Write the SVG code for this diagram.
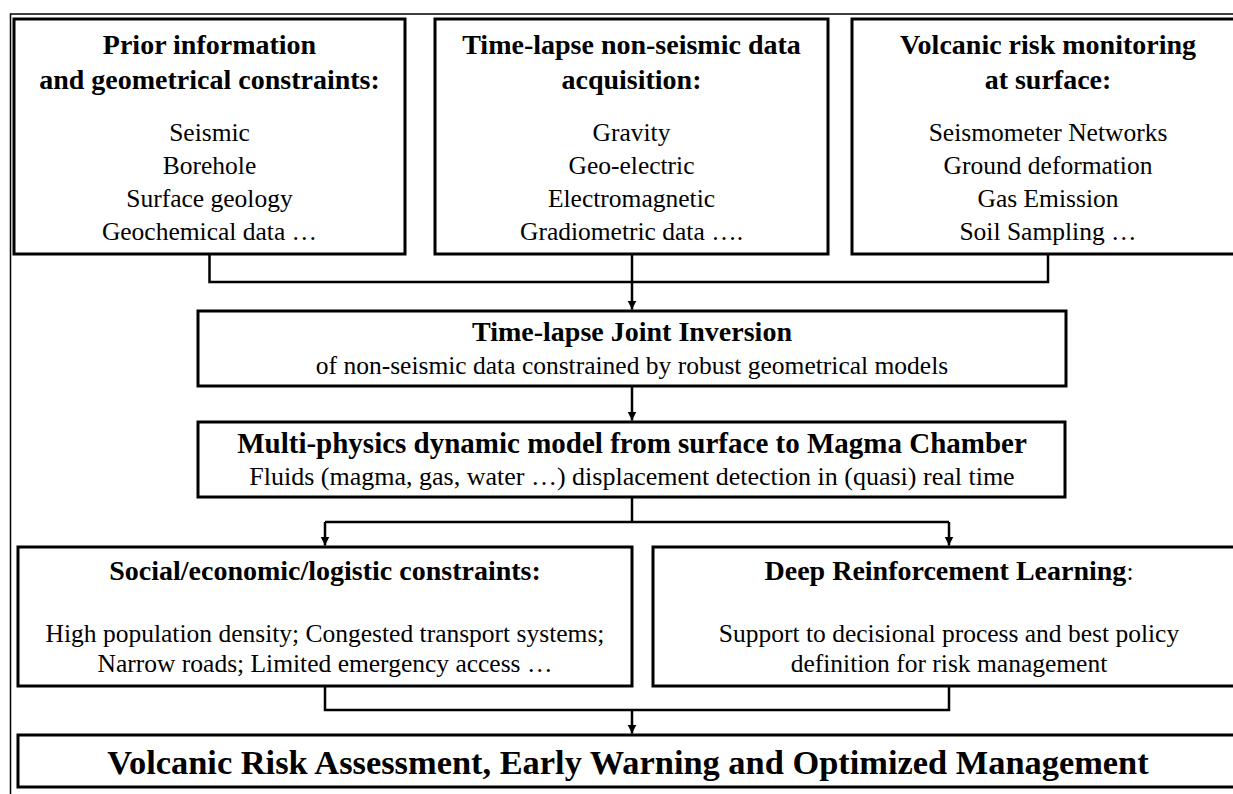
<svg xmlns="http://www.w3.org/2000/svg" width="1233" height="794" viewBox="0 0 1233 794">
<defs>
<marker id="arr" viewBox="0 0 10 10" refX="10" refY="5" markerWidth="9" markerHeight="10" markerUnits="userSpaceOnUse" orient="auto">
<path d="M0,0 L10,5 L0,10 z" fill="#000"/>
</marker>
</defs>
<style>
.box{fill:#fff;stroke:#000;stroke-width:3}
.frame{fill:none;stroke:#000;stroke-width:1.5}
.con{fill:none;stroke:#000;stroke-width:2.5}
text{font-family:"Liberation Serif","Times New Roman",serif;fill:#000;text-anchor:middle}
.t{font-size:28px;font-weight:bold}
.r{font-size:25.5px}
.t2{font-size:29px;font-weight:bold}
.r2{font-size:26px}
.big{font-size:34.4px;font-weight:bold}
</style>
<rect width="1233" height="794" fill="#fff"/>
<path class="frame" d="M10.5,794 V14 H1233"/>
<g id="connectors">
<path class="con" d="M209.5,254 V282 H1048 V254"/>
<path class="con" d="M632,254 V309.5" marker-end="url(#arr)"/>
<path class="con" d="M632,386 V420.5" marker-end="url(#arr)"/>
<path class="con" d="M632,497 V522"/>
<path class="con" d="M325,522 H949"/>
<path class="con" d="M325,522 V545.5" marker-end="url(#arr)"/>
<path class="con" d="M949,522 V545.5" marker-end="url(#arr)"/>
<path class="con" d="M325,686 V710 H949 V686"/>
<path class="con" d="M632,710 V733.5" marker-end="url(#arr)"/>
</g>
<g id="prior">
<rect class="box" x="14" y="19" width="391" height="235"/>
<text class="t" x="209.5" y="54">Prior information</text>
<text class="t" x="209.5" y="89">and geometrical constraints:</text>
<text class="r" x="209.5" y="141">Seismic</text>
<text class="r" x="209.5" y="174">Borehole</text>
<text class="r" x="209.5" y="207">Surface geology</text>
<text class="r" x="209.5" y="240">Geochemical data …</text>
</g>
<g id="timelapse">
<rect class="box" x="435" y="19" width="393" height="235"/>
<text class="t" x="631.5" y="54">Time-lapse non-seismic data</text>
<text class="t" x="631.5" y="89">acquisition:</text>
<text class="r" x="631.5" y="141">Gravity</text>
<text class="r" x="631.5" y="174">Geo-electric</text>
<text class="r" x="631.5" y="207">Electromagnetic</text>
<text class="r" x="631.5" y="240">Gradiometric data ….</text>
</g>
<g id="volcanic">
<rect class="box" x="852" y="19" width="392" height="235"/>
<text class="t" x="1048" y="54">Volcanic risk monitoring</text>
<text class="t" x="1048" y="89">at surface:</text>
<text class="r" x="1048" y="141">Seismometer Networks</text>
<text class="r" x="1048" y="174">Ground deformation</text>
<text class="r" x="1048" y="207">Gas Emission</text>
<text class="r" x="1048" y="240">Soil Sampling …</text>
</g>
<g id="joint">
<rect class="box" x="198" y="311" width="868" height="75"/>
<text class="t" x="632" y="341">Time-lapse Joint Inversion</text>
<text class="r" x="632" y="374">of non-seismic data constrained by robust geometrical models</text>
</g>
<g id="multiphysics">
<rect class="box" x="198" y="422" width="867" height="75"/>
<text class="t2" x="632" y="453">Multi-physics dynamic model from surface to Magma Chamber</text>
<text class="r2" x="632" y="485">Fluids (magma, gas, water …) displacement detection in (quasi) real time</text>
</g>
<g id="social">
<rect class="box" x="18" y="547" width="614" height="139"/>
<text class="t" x="325" y="580">Social/economic/logistic constraints:</text>
<text class="r" x="325" y="642">High population density; Congested transport systems;</text>
<text class="r" x="325" y="672">Narrow roads; Limited emergency access …</text>
</g>
<g id="drl">
<rect class="box" x="653" y="547" width="592" height="139"/>
<text class="r" x="949" y="580"><tspan font-weight="bold" font-size="28px">Deep Reinforcement Learning</tspan>:</text>
<text class="r" x="949" y="642">Support to decisional process and best policy</text>
<text class="r" x="949" y="672">definition for risk management</text>
</g>
<g id="final">
<rect class="box" x="18" y="735" width="1227" height="52"/>
<text class="big" x="628" y="774">Volcanic Risk Assessment, Early Warning and Optimized Management</text>
</g>
</svg>
